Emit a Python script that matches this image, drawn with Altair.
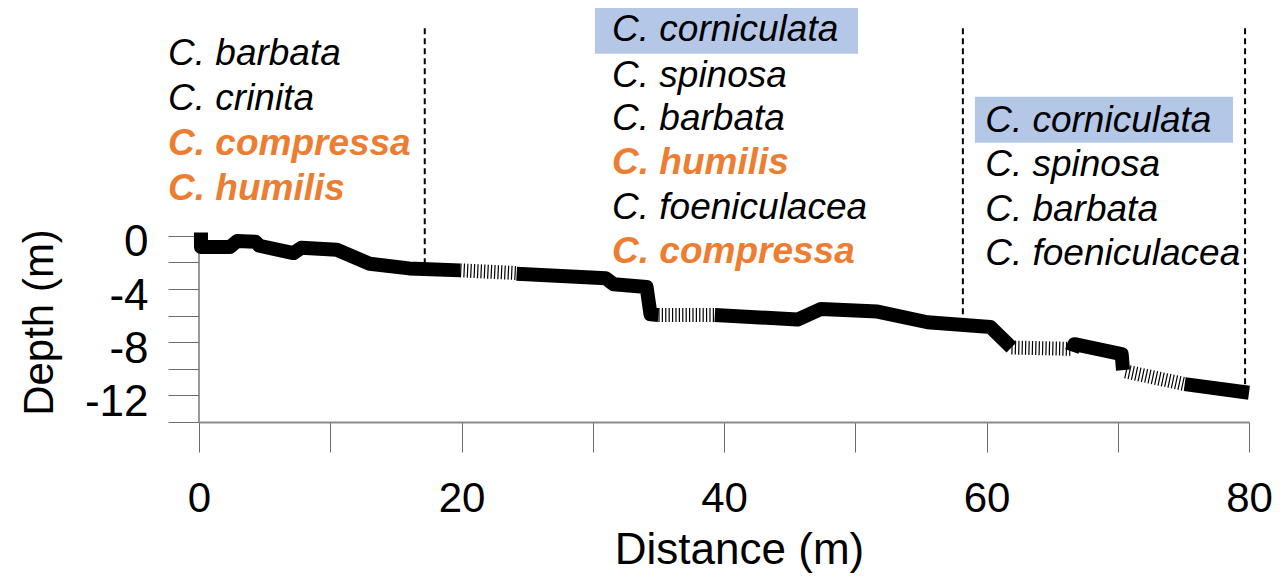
import altair as alt
import pandas as pd

# ---- profile (distance m, depth m), split into segments ----
seg_solid1_d = [0.15, 0.15, 2.35, 2.9, 4.3, 4.6, 7.2, 7.8, 10.5, 13.0, 16.0, 19.9]
seg_solid1_z = [0.25, -0.85, -0.85, -0.4, -0.45, -0.75, -1.3, -0.9, -1.05, -2.1, -2.45, -2.6]
seg_dot1_d = [19.9, 24.2]
seg_dot1_z = [-2.6, -2.8]
seg_solid2_d = [24.2, 31.0, 31.6, 34.1, 34.4, 35.0]
seg_solid2_z = [-2.85, -3.2, -3.65, -3.85, -5.9, -5.95]
seg_dot2_d = [35.0, 39.3]
seg_dot2_z = [-5.95, -5.95]
seg_solid3_d = [39.3, 45.6, 47.4, 51.7, 55.5, 60.3, 61.9]
seg_solid3_z = [-5.95, -6.3, -5.5, -5.7, -6.5, -6.85, -8.4]
seg_dot3_d = [61.9, 66.4]
seg_dot3_z = [-8.4, -8.5]
seg_solid4_d = [66.5, 66.7, 70.3, 70.4]
seg_solid4_z = [-8.7, -8.15, -8.9, -10.1]
seg_dot4_d = [70.6, 75.1]
seg_dot4_z = [-10.2, -11.15]
seg_solid5_d = [75.1, 80.0]
seg_solid5_z = [-11.15, -11.8]

segments = [
    ("s1", "solid", seg_solid1_d, seg_solid1_z),
    ("d1", "dotted", seg_dot1_d, seg_dot1_z),
    ("s2", "solid", seg_solid2_d, seg_solid2_z),
    ("d2", "dotted", seg_dot2_d, seg_dot2_z),
    ("s3", "solid", seg_solid3_d, seg_solid3_z),
    ("d3", "dotted", seg_dot3_d, seg_dot3_z),
    ("s4", "solid", seg_solid4_d, seg_solid4_z),
    ("d4", "dotted", seg_dot4_d, seg_dot4_z),
    ("s5", "solid", seg_solid5_d, seg_solid5_z),
]
rows = []
for sid, kind, ds, zs in segments:
    for i, (d, z) in enumerate(zip(ds, zs)):
        rows.append({"seg": sid, "kind": kind, "dist": d, "depth": z, "ord": i})
profile = pd.DataFrame(rows)

# ---- vertical dashed separators ----
sep_dist = [17.2, 58.2, 79.7]
sep_top = [15.6, 15.6, 15.6]
sep_bottom = [-2.4, -6.7, -11.7]
seps = pd.DataFrame({"dist": sep_dist, "top": sep_top, "bottom": sep_bottom})

# ---- species labels ----
sp_names = ["C. barbata", "C. crinita", "C. compressa", "C. humilis",
            "C. corniculata", "C. spinosa", "C. barbata", "C. humilis", "C. foeniculacea", "C. compressa",
            "C. corniculata", "C. spinosa", "C. barbata", "C. foeniculacea"]
sp_dist = [-2.36] * 4 + [31.47] * 6 + [59.9] * 4
sp_depth = [13.7, 10.3, 6.9, 3.5,
            15.5, 12.0, 8.75, 5.45, 2.1, -1.2,
            8.6, 5.3, 1.95, -1.4]
sp_highlight = [False, False, True, True,
                False, False, False, True, False, True,
                False, False, False, False]
species = pd.DataFrame({"name": sp_names, "dist": sp_dist, "depth": sp_depth,
                        "hl": sp_highlight})
species["color"] = species["hl"].map({True: "#ED7D31", False: "#000000"})

# ---- highlight boxes behind C. corniculata ----
box_x1 = [30.17, 59.12]
box_x2 = [50.21, 78.78]
box_top = [17.2, 10.45]
box_bottom = [13.68, 6.99]
boxes = pd.DataFrame({"x1": box_x1, "x2": box_x2, "y1": box_top, "y2": box_bottom})

FONT = "Liberation Sans"
xscale = alt.Scale(domain=[0, 80], nice=False, zero=False)
yscale = alt.Scale(domain=[-14, 16], nice=False, zero=False)

x_enc = alt.X("dist:Q", scale=xscale, axis=alt.Axis(
    values=list(range(0, 81, 10)),
    labelExpr="datum.value % 20 == 0 ? '' + datum.value : ''",
    tickSize=30, tickColor="#6b6b6b", tickWidth=1,
    domainColor="#8a8a8a", domainWidth=2,
    labelFont=FONT, labelFontSize=42, labelColor="#000000", labelPadding=26,
    labelFlush=False, grid=False,
    title="Distance (m)", titleFont=FONT, titleFontSize=44, titleFontWeight="normal",
    titleColor="#000000", titleX=540, titleY=141, titleBaseline="alphabetic"))

y_enc = alt.Y("depth:Q", scale=yscale, axis=alt.Axis(
    values=list(range(0, -15, -2)),
    labelExpr="datum.value % 4 == 0 ? '' + datum.value : ''",
    tickSize=31, tickColor="#6b6b6b", tickWidth=1,
    domain=False,
    labelFont=FONT, labelFontSize=44, labelColor="#000000", labelPadding=20,
    labelBaseline="middle", labelOffset=7, grid=False,
    title="Depth (m)", titleFont=FONT, titleFontSize=42, titleFontWeight="normal",
    titleColor="#000000", titleX=-147, titleY=299, titleBaseline="alphabetic",
    titleAngle=270))

base = alt.Chart(profile)

yaxis_line = alt.Chart(pd.DataFrame({"dist": [0], "depth": [0], "d2": [-14]})).mark_rule(
    color="#7a7a7a", strokeWidth=1.5).encode(x=x_enc, y=y_enc, y2="d2:Q")

box_layer = alt.Chart(boxes).mark_rect(color="#B4C7E7").encode(
    x=alt.X("x1:Q", scale=xscale), x2="x2:Q",
    y=alt.Y("y1:Q", scale=yscale), y2="y2:Q")

sep_layer = alt.Chart(seps).mark_rule(color="#000000", strokeWidth=2, strokeDash=[6, 4]).encode(
    x=alt.X("dist:Q", scale=xscale), y=alt.Y("top:Q", scale=yscale), y2="bottom:Q")

solid_layer = base.transform_filter(alt.datum.kind == "solid").mark_line(
    color="#000000", strokeWidth=14, strokeJoin="round", strokeCap="butt").encode(
    x=alt.X("dist:Q", scale=xscale), y=alt.Y("depth:Q", scale=yscale),
    detail="seg:N", order="ord:Q")

dot_layer = base.transform_filter(alt.datum.kind == "dotted").mark_line(
    color="#000000", strokeWidth=14, strokeDash=[1.2, 2.2], strokeCap="butt").encode(
    x=alt.X("dist:Q", scale=xscale), y=alt.Y("depth:Q", scale=yscale),
    detail="seg:N", order="ord:Q")

txt_normal = alt.Chart(species).transform_filter(alt.datum.hl == False).mark_text(
    font=FONT, fontSize=37, fontStyle="italic", align="left", baseline="middle").encode(
    x=alt.X("dist:Q", scale=xscale), y=alt.Y("depth:Q", scale=yscale),
    text="name:N", color=alt.Color("color:N", scale=None))

txt_bold = alt.Chart(species).transform_filter(alt.datum.hl == True).mark_text(
    font=FONT, fontSize=37, fontStyle="italic", fontWeight="bold", align="left", baseline="middle").encode(
    x=alt.X("dist:Q", scale=xscale), y=alt.Y("depth:Q", scale=yscale),
    text="name:N", color=alt.Color("color:N", scale=None))

axes_layer = alt.Chart(profile).mark_point(opacity=0).encode(x=x_enc, y=y_enc)

chart = alt.layer(
    axes_layer, box_layer, sep_layer, yaxis_line, solid_layer, dot_layer, txt_normal, txt_bold
).properties(
    width=1050, height=399,
    padding={"left": 191, "top": 15, "right": 24, "bottom": 158},
    autosize=alt.AutoSizeParams(type="none"),
).configure_view(stroke=None)

chart.save("out.html", embed_options={"renderer": "svg", "actions": False})
